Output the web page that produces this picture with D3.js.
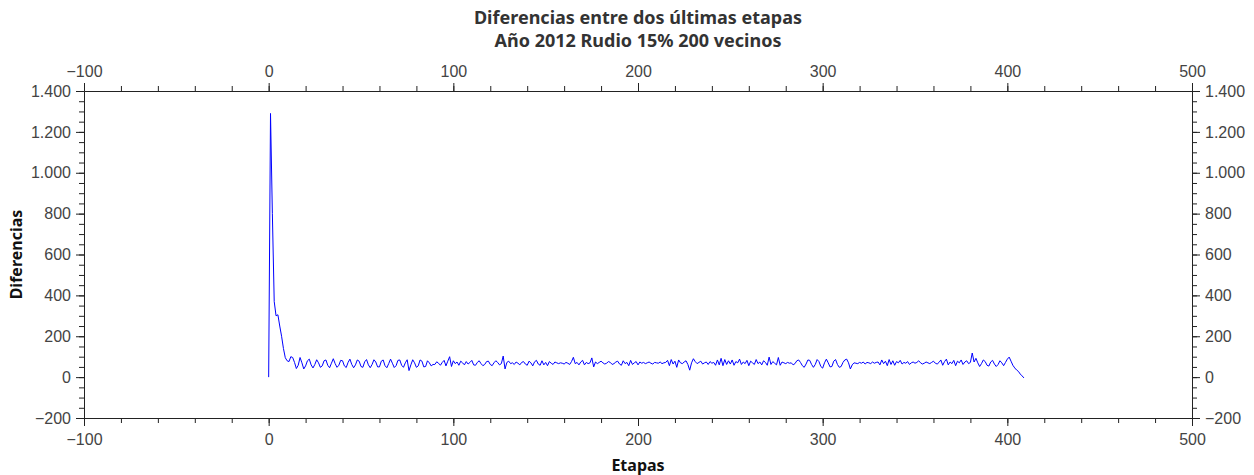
<!DOCTYPE html>
<html>
<head>
<meta charset="utf-8">
<script src="https://cdn.jsdelivr.net/npm/d3@7"></script>
<style>
  body { margin: 0; background: #fff; }
  svg  { display: block; font-family: "Noto Sans", sans-serif; }
  .tick text { fill: #444; font-size: 16px; }
  .domain, .tick line { stroke: #222; }
  .title { fill: #333; font-size: 18px; font-weight: bold; }
  .axis-label { fill: #111; font-size: 16px; font-weight: bold; }
</style>
</head>
<body>
<svg id="chart"></svg>
<script>
const arranque = [0, 1290, 800, 370, 300, 305, 250, 200, 140, 95,
  80, 76, 100, 96, 72, 42, 58, 96, 70, 40];
const tramo1 = [55, 80, 88, 60, 45, 62, 85, 70, 48, 55,
  80, 84, 58, 46, 68, 90, 66, 48, 58, 82,
  80, 55, 47, 72, 88, 62, 46, 60, 84, 78,
  52, 48, 75, 86, 60, 46, 62, 85, 74, 50,
  50, 78, 84, 56, 46, 66, 88, 68, 47, 56,
  82, 84, 58, 48, 70, 85, 32, 60, 85, 70,
  48, 55, 84, 78, 50, 52, 80, 70, 55, 62];
const tramo2 = [62, 75, 68, 58, 72, 82, 55, 78, 100, 52,
  80, 66, 74, 58, 78, 70, 60, 76, 64, 72,
  82, 60, 58, 72, 80, 66, 56, 62, 76, 78,
  62, 56, 70, 80, 72, 60, 66, 103, 40, 72,
  78, 66, 70, 62, 74, 68, 60, 72, 76, 64,
  58, 78, 70, 55, 75, 82, 64, 58, 80, 60,
  72, 56, 76, 68, 62, 74, 70, 66, 70, 68,
  64, 72, 68, 62, 76, 97, 66, 72, 60, 74];
const tramo3 = [82, 60, 72, 66, 70, 94, 50, 74, 66, 72,
  78, 70, 64, 68, 76, 72, 62, 66, 74, 78,
  64, 58, 80, 66, 72, 56, 82, 62, 70, 76,
  60, 74, 68, 72, 66, 70, 74, 68, 64, 72,
  70, 68, 74, 66, 70, 72, 82, 56, 86, 64,
  78, 48, 84, 70, 66, 74, 80, 62, 34, 70,
  90, 76, 66, 72, 78, 64, 70, 74, 62, 76,
  68, 72, 58, 84, 60, 92, 56, 86, 62, 80];
const tramo4 = [64, 84, 58, 76, 70, 88, 62, 74, 66, 82,
  56, 78, 70, 62, 86, 66, 74, 60, 80, 72,
  58, 98, 62, 76, 68, 60, 96, 58, 74, 70,
  66, 72, 68, 70, 60, 66, 80, 84, 72, 56,
  48, 64, 84, 82, 62, 48, 62, 86, 76, 52,
  44, 70, 88, 70, 50, 52, 78, 86, 62, 48,
  52, 72, 84, 88, 70, 40, 60, 70, 68, 66,
  72, 68, 74, 64, 72, 70, 66, 74, 68, 72];
const tramo5 = [74, 60, 84, 66, 78, 56, 86, 62, 80, 58,
  76, 70, 82, 64, 72, 68, 76, 62, 70, 74,
  68, 72, 80, 70, 64, 68, 74, 70, 66, 72,
  78, 68, 64, 72, 84, 58, 76, 88, 60, 74,
  66, 82, 56, 78, 70, 84, 62, 74, 80, 66,
  72, 118, 74, 92, 70, 52, 66, 84, 76, 58,
  54, 74, 82, 64, 52, 62, 80, 70, 56, 72,
  88, 98, 78, 58, 45, 35, 28, 15, 6, -4];

const diferencias = [...arranque, ...tramo1, ...tramo2, ...tramo3, ...tramo4, ...tramo5];
const etapas = d3.range(diferencias.length);

const xMajor = d3.range(-100, 501, 100);
const xMinor = d3.range(-100, 501, 20);
const yMajor = d3.range(-200, 1401, 200);
const yMinor = d3.range(-200, 1401, 50);

const titulo = ["Diferencias entre dos últimas etapas", "Año 2012 Rudio 15% 200 vecinos"];

// Layout
const width = 1254, height = 475;
const margin = { top: 91, right: 62, bottom: 57, left: 84 };
const svg = d3.select("#chart").attr("width", width).attr("height", height);

const x = d3.scaleLinear().domain([-100, 500]).range([margin.left, width - margin.right]);
const y = d3.scaleLinear().domain([-200, 1400]).range([height - margin.bottom, margin.top]);

// Spanish number format: 1.400
const es = d3.formatLocale({ decimal: ",", thousands: ".", grouping: [3], currency: ["", " €"] });
const fmt = es.format(",d");

// Axes on all four sides, minor ticks first then major ones with labels
function drawAxis(axisFn, scale, major, minor, transform, pad) {
  const g = svg.append("g").attr("transform", transform);
  g.call(axisFn(scale).tickValues(minor).tickSize(5).tickSizeOuter(0).tickFormat(""));
  g.append("g").call(axisFn(scale).tickValues(major).tickSize(8).tickSizeOuter(0)
    .tickPadding(pad).tickFormat(fmt));
  return g;
}

drawAxis(d3.axisBottom, x, xMajor, xMinor, `translate(0,${y(-200)})`, 8);
drawAxis(d3.axisTop,    x, xMajor, xMinor, `translate(0,${y(1400)})`, 6);
drawAxis(d3.axisLeft,   y, yMajor, yMinor, `translate(${x(-100)},0)`, 5);
drawAxis(d3.axisRight,  y, yMajor, yMinor, `translate(${x(500)},0)`, 5);

// Line
const line = d3.line()
  .x(i => x(etapas[i]))
  .y(i => y(diferencias[i]));

svg.append("path")
  .datum(etapas)
  .attr("fill", "none")
  .attr("stroke", "#0000ff")
  .attr("stroke-width", 1)
  .attr("stroke-linejoin", "round")
  .attr("d", line);

// Titles and axis labels
svg.selectAll("text.title")
  .data(titulo)
  .enter().append("text")
    .attr("class", "title")
    .attr("x", (x(-100) + x(500)) / 2)
    .attr("y", (d, i) => 24 + i * 23)
    .attr("text-anchor", "middle")
    .text(d => d);

svg.append("text")
  .attr("class", "axis-label")
  .attr("x", (x(-100) + x(500)) / 2)
  .attr("y", 471)
  .attr("text-anchor", "middle")
  .text("Etapas");

svg.append("text")
  .attr("class", "axis-label")
  .attr("transform", `translate(22,${(y(-200) + y(1400)) / 2}) rotate(-90)`)
  .attr("text-anchor", "middle")
  .text("Diferencias");
</script>
</body>
</html>
